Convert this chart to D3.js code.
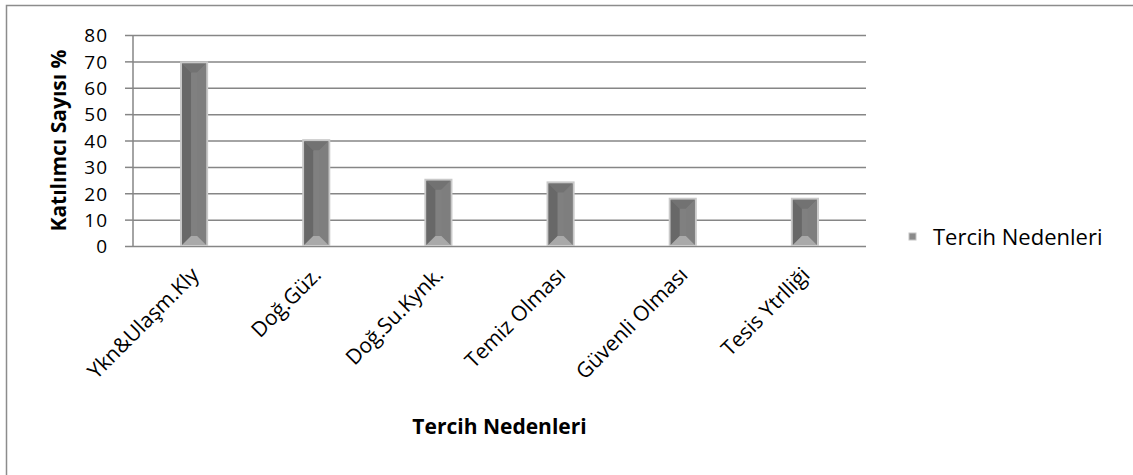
<!DOCTYPE html>
<html>
<head>
<meta charset="utf-8">
<script src="https://cdn.jsdelivr.net/npm/d3@7"></script>
<style>
    body { margin: 0; background: #fff; }
    text { font-family: "Open Sans", sans-serif; fill: #000; }
</style>
</head>
<body>
<div id="chart"></div>
<script>
var categories = ["Ykn&Ulaşm.Kly", "Doğ.Güz.", "Doğ.Su.Kynk.", "Temiz Olması", "Güvenli Olması", "Tesis Ytrlliği"];
var values = [70, 40.5, 25.5, 24.5, 18.3, 18.3];
var yTicks = [0, 10, 20, 30, 40, 50, 60, 70, 80];
var seriesName = "Tercih Nedenleri";
var yTitle = "Katılımcı Sayısı %";
var xTitle = "Tercih Nedenleri";

var W = 1133, H = 475;
var margin = { top: 35, left: 133 },
    width = 866 - 133,
    height = 246 - 35;

var svg = d3.select("#chart")
    .append("svg")
    .attr("width", W)
    .attr("height", H);

// frame of the chart object
svg.append("rect")
    .attr("x", 6.5).attr("y", 5.5)
    .attr("width", W + 20).attr("height", H + 20)
    .attr("fill", "none")
    .attr("stroke", "#8c8c8c")
    .attr("stroke-width", 1.5);

var g = svg.append("g")
    .attr("transform", "translate(" + margin.left + "," + margin.top + ")");

var x = d3.scaleBand()
    .domain(categories)
    .range([0, width])
    .paddingInner(0.77)
    .paddingOuter(0.385);

var y = d3.scaleLinear()
    .domain([0, 80])
    .range([height, 0]);

// gridlines
g.append("g")
    .attr("class", "grid")
    .call(d3.axisLeft(y).tickValues(yTicks).tickSize(-width).tickFormat(""))
    .call(function(a) {
        a.select(".domain").remove();
        a.selectAll("line").attr("stroke", "#868686").attr("stroke-width", 1.5);
    });

g.append("g")
    .call(d3.axisLeft(y).tickValues(yTicks).tickSize(8).tickPadding(17))
    .call(function(a) {
        a.select(".domain").attr("stroke", "#868686").attr("stroke-width", 1.5)
            .attr("d", "M0," + height + "V0");
        a.selectAll("line").attr("stroke", "#868686").attr("stroke-width", 1.5);
        a.selectAll("text")
            .style("font-size", "19px")
            .style("letter-spacing", "1px")
            .attr("dy", "0.36em");
    });

// bevelled bars
var bars = g.selectAll(".bar")
    .data(categories)
    .enter()
    .append("g")
    .attr("class", "bar");

bars.each(function(d, i) {
    var sel = d3.select(this);
    var bx = x(d), bw = x.bandwidth(), by = y(values[i]), bh = y(0) - y(values[i]);
    sel.append("rect")
        .attr("x", bx).attr("y", by)
        .attr("width", bw).attr("height", bh)
        .attr("fill", "#c9c9c9");
    var x0 = bx + 2, x1 = bx + bw - 2, y0 = by + 2, y1 = y(0) - 1;
    var b = Math.min(9, (x1 - x0) / 2 - 1, (y1 - y0) / 2);
    function poly(pts, c) {
        sel.append("polygon")
            .attr("points", pts.map(function(p) { return p.join(","); }).join(" "))
            .attr("fill", c);
    }
    poly([[x0, y0], [x1, y0], [x1, y1], [x0, y1]], "#808080");
    poly([[x0, y0], [x1, y0], [x1 - b, y0 + b], [x0 + b, y0 + b]], "#727272");
    poly([[x0, y0], [x0 + b, y0 + b], [x0 + b, y1 - b], [x0, y1]], "#686868");
    poly([[x1, y0], [x1, y1], [x1 - b, y1 - b], [x1 - b, y0 + b]], "#7e7e7e");
    poly([[x0, y1], [x1, y1], [x1 - b, y1 - b], [x0 + b, y1 - b]], "#a9a9a9");
});

// x labels, rotated
g.selectAll(".xlab")
    .data(categories)
    .enter()
    .append("text")
    .attr("class", "xlab")
    .attr("transform", function(d) {
        return "translate(" + (x(d) + x.bandwidth() / 2 + 1) + "," + (height + 25) + ") rotate(-45)";
    })
    .attr("text-anchor", "end")
    .attr("dy", "0.35em")
    .style("font-size", "21px")
    .text(function(d) { return d; });

// axis titles
svg.append("text")
    .attr("transform", "translate(66," + (margin.top + height / 2) + ") rotate(-90)")
    .attr("text-anchor", "middle")
    .style("font-size", "21px")
    .style("font-weight", "bold")
    .text(yTitle);

svg.append("text")
    .attr("x", margin.left + width / 2)
    .attr("y", 434)
    .attr("text-anchor", "middle")
    .style("font-size", "21px")
    .style("font-weight", "bold")
    .text(xTitle);

// legend
var lg = svg.append("g").attr("transform", "translate(909,233)");
lg.append("rect").attr("width", 7).attr("height", 7).attr("fill", "#8a8a8a")
    .attr("stroke", "#c4c4c4").attr("stroke-width", 1);
lg.append("text")
    .attr("x", 24).attr("y", 4)
    .attr("dy", "0.35em")
    .style("font-size", "22px")
    .text(seriesName);
</script>
</body>
</html>
